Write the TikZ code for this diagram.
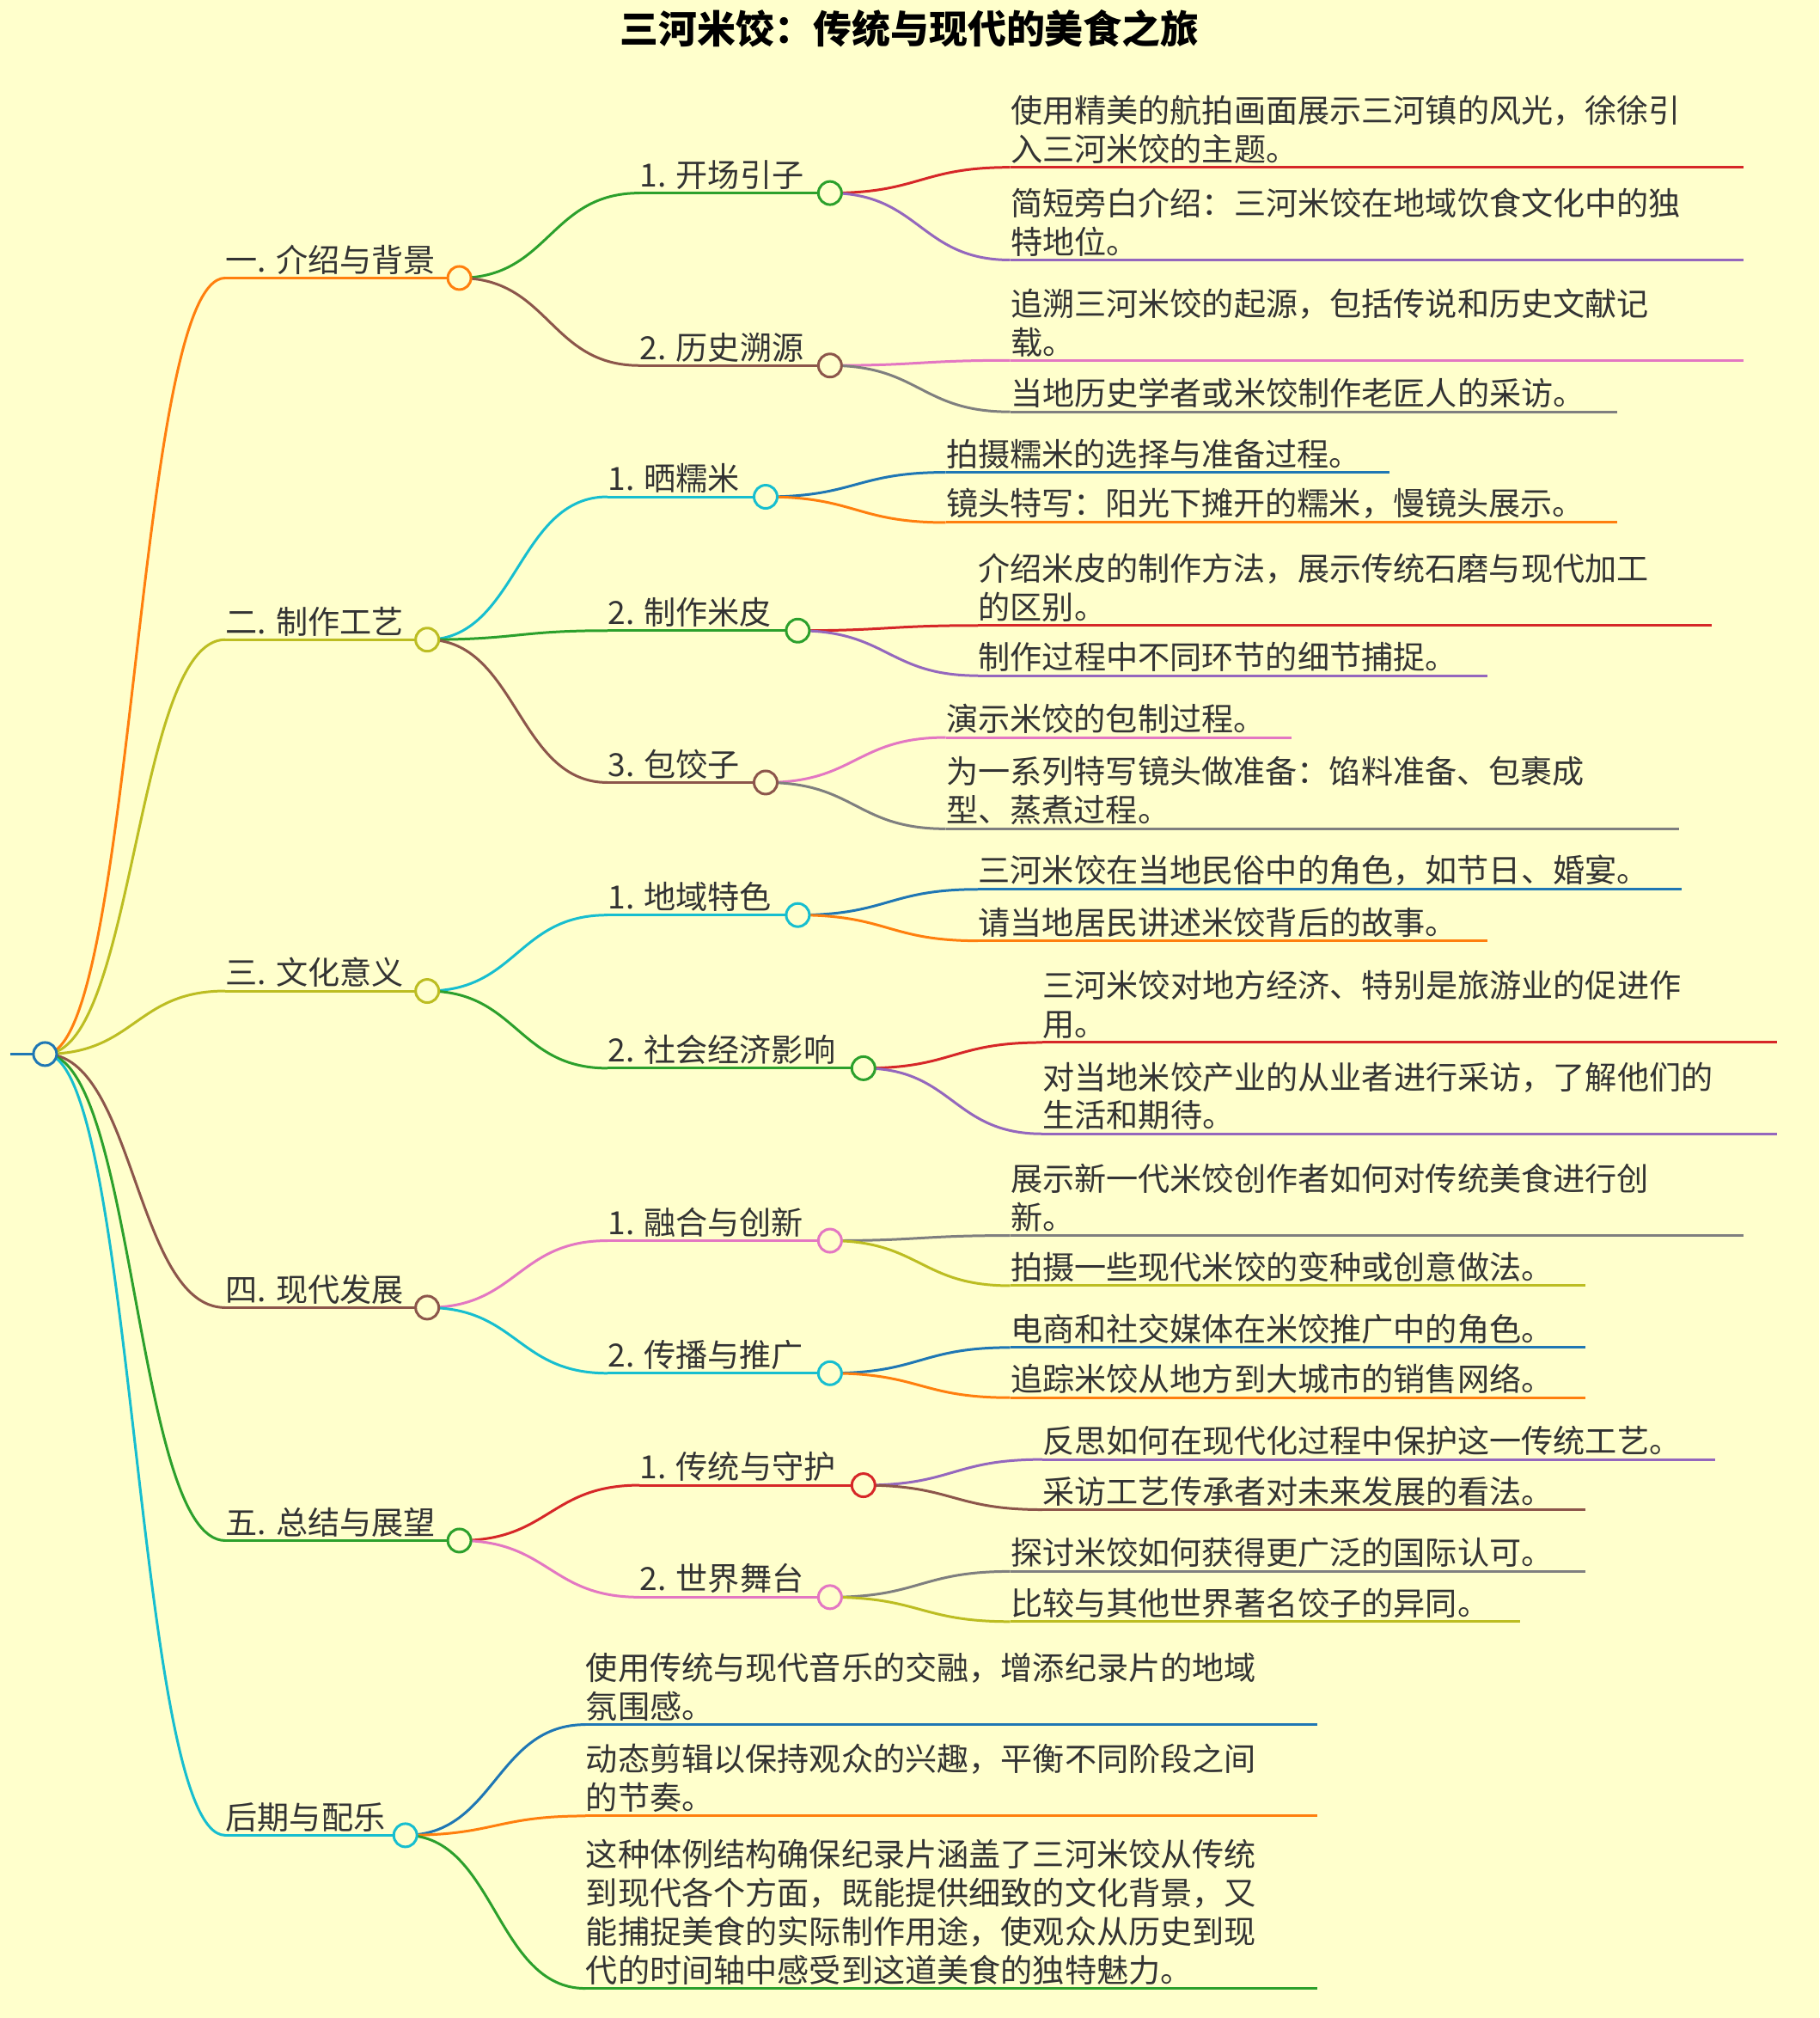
\documentclass[tikz,border=0pt]{standalone}
\usepackage{fontspec}
\setmainfont{Noto Sans CJK SC}
\definecolor{bg}{HTML}{FFFFCC}
\definecolor{cB}{HTML}{1F77B4}
\definecolor{cO}{HTML}{FF7F0E}
\definecolor{cG}{HTML}{2CA02C}
\definecolor{cR}{HTML}{D62728}
\definecolor{cP}{HTML}{9467BD}
\definecolor{cN}{HTML}{8C564B}
\definecolor{cK}{HTML}{E377C2}
\definecolor{cY}{HTML}{7F7F7F}
\definecolor{cL}{HTML}{BCBD22}
\definecolor{cC}{HTML}{17BECF}
\tikzset{
  ln/.style={line width=1pt},
  lt/.style={font=\fontsize{12.4}{15}\selectfont, text=black!80, align=left, inner xsep=0pt, inner ysep=1.2pt, anchor=south west},
  circ/.style={circle, line width=1pt, fill=bg, minimum size=9pt, inner sep=0pt}
}
\newcommand\mmconn[3]{\draw[ln,#1] (#2) .. controls +(70,0) and +(-70,0) .. (#3);}
% color, parent, name, x1, x2, y, text
\newcommand\mmleaf[7]{\coordinate (#3) at (#4,#6);\mmconn{#1}{#2}{#3}\draw[ln,#1] (#3) -- (#5,#6);\node[lt] (#3t) at (#3) {#7};}
% color, parent, name, x1, xc, y, text
\newcommand\mmmid[7]{\coordinate (#3) at (#4,#6);\coordinate (#3c) at (#5,#6);\mmconn{#1}{#2}{#3}\draw[ln,#1] (#3) -- (#3c);\node[lt] (#3t) at (#3) {#7};}
\newcommand\mmdot[2]{\node[circ,draw=#1] at (#2) {};}
\begin{document}
\begin{tikzpicture}[x=0.5pt,y=-0.5pt]
\fill[bg] (0,0) rectangle (1414,1568);
\useasboundingbox (0,0) rectangle (1414,1568);
\node[font=\fontsize{15}{18}\selectfont\bfseries, text=black] (title) at (707,22) {三河米饺：传统与现代的美食之旅};
\coordinate (root) at (35,819);
\coordinate (rs) at (8,819);
\draw[ln,cB] (rs) -- (root);
% 1
\mmmid{cO}{root}{a}{175}{357}{216}{一. 介绍与背景}
\mmmid{cG}{ac}{a1}{497}{645}{150}{1. 开场引子}
\mmleaf{cR}{a1c}{a11}{785}{1355}{130}{使用精美的航拍画面展示三河镇的风光，徐徐引\\入三河米饺的主题。}
\mmleaf{cP}{a1c}{a12}{785}{1355}{202}{简短旁白介绍：三河米饺在地域饮食文化中的独\\特地位。}
\mmmid{cN}{ac}{a2}{497}{645}{284}{2. 历史溯源}
\mmleaf{cK}{a2c}{a21}{785}{1355}{280}{追溯三河米饺的起源，包括传说和历史文献记\\载。}
\mmleaf{cY}{a2c}{a22}{785}{1257}{320}{当地历史学者或米饺制作老匠人的采访。}
% 2
\mmmid{cL}{root}{b}{175}{332}{497}{二. 制作工艺}
\mmmid{cC}{bc}{b1}{472}{595}{386}{1. 晒糯米}
\mmleaf{cB}{b1c}{b11}{735}{1080}{367}{拍摄糯米的选择与准备过程。}
\mmleaf{cO}{b1c}{b12}{735}{1257}{406}{镜头特写：阳光下摊开的糯米，慢镜头展示。}
\mmmid{cG}{bc}{b2}{472}{620}{490}{2. 制作米皮}
\mmleaf{cR}{b2c}{b21}{760}{1330}{486}{介绍米皮的制作方法，展示传统石磨与现代加工\\的区别。}
\mmleaf{cP}{b2c}{b22}{760}{1156}{525}{制作过程中不同环节的细节捕捉。}
\mmmid{cN}{bc}{b3}{472}{595}{608}{3. 包饺子}
\mmleaf{cK}{b3c}{b31}{735}{1004}{573}{演示米饺的包制过程。}
\mmleaf{cY}{b3c}{b32}{735}{1305}{644}{为一系列特写镜头做准备：馅料准备、包裹成\\型、蒸煮过程。}
% 3
\mmmid{cL}{root}{c}{175}{332}{770}{三. 文化意义}
\mmmid{cC}{cc}{c1}{472}{620}{711}{1. 地域特色}
\mmleaf{cB}{c1c}{c11}{760}{1307}{691}{三河米饺在当地民俗中的角色，如节日、婚宴。}
\mmleaf{cO}{c1c}{c12}{760}{1156}{731}{请当地居民讲述米饺背后的故事。}
\mmmid{cG}{cc}{c2}{472}{671}{830}{2. 社会经济影响}
\mmleaf{cR}{c2c}{c21}{810}{1381}{810}{三河米饺对地方经济、特别是旅游业的促进作\\用。}
\mmleaf{cP}{c2c}{c22}{810}{1381}{881}{对当地米饺产业的从业者进行采访，了解他们的\\生活和期待。}
% 4
\mmmid{cN}{root}{d}{175}{332}{1016}{四. 现代发展}
\mmmid{cK}{dc}{d1}{472}{645}{964}{1. 融合与创新}
\mmleaf{cY}{d1c}{d11}{785}{1355}{960}{展示新一代米饺创作者如何对传统美食进行创\\新。}
\mmleaf{cL}{d1c}{d12}{785}{1232}{999}{拍摄一些现代米饺的变种或创意做法。}
\mmmid{cC}{dc}{d2}{472}{645}{1067}{2. 传播与推广}
\mmleaf{cB}{d2c}{d21}{785}{1232}{1047}{电商和社交媒体在米饺推广中的角色。}
\mmleaf{cO}{d2c}{d22}{785}{1232}{1086}{追踪米饺从地方到大城市的销售网络。}
% 5
\mmmid{cG}{root}{e}{175}{357}{1197}{五. 总结与展望}
\mmmid{cR}{ec}{e1}{497}{671}{1154}{1. 传统与守护}
\mmleaf{cP}{e1c}{e11}{810}{1333}{1134}{反思如何在现代化过程中保护这一传统工艺。}
\mmleaf{cN}{e1c}{e12}{810}{1232}{1173}{采访工艺传承者对未来发展的看法。}
\mmmid{cK}{ec}{e2}{497}{645}{1241}{2. 世界舞台}
\mmleaf{cY}{e2c}{e21}{785}{1232}{1221}{探讨米饺如何获得更广泛的国际认可。}
\mmleaf{cL}{e2c}{e22}{785}{1181}{1260}{比较与其他世界著名饺子的异同。}
% 6
\mmmid{cC}{root}{f}{175}{315}{1426}{后期与配乐}
\mmleaf{cB}{fc}{f1}{455}{1024}{1340}{使用传统与现代音乐的交融，增添纪录片的地域\\氛围感。}
\mmleaf{cO}{fc}{f2}{455}{1024}{1411}{动态剪辑以保持观众的兴趣，平衡不同阶段之间\\的节奏。}
\mmleaf{cG}{fc}{f3}{455}{1024}{1545}{这种体例结构确保纪录片涵盖了三河米饺从传统\\到现代各个方面，既能提供细致的文化背景，又\\能捕捉美食的实际制作用途，使观众从历史到现\\代的时间轴中感受到这道美食的独特魅力。}
% circles
\mmdot{cO}{ac}\mmdot{cG}{a1c}\mmdot{cN}{a2c}
\mmdot{cL}{bc}\mmdot{cC}{b1c}\mmdot{cG}{b2c}\mmdot{cN}{b3c}
\mmdot{cL}{cc}\mmdot{cC}{c1c}\mmdot{cG}{c2c}
\mmdot{cN}{dc}\mmdot{cK}{d1c}\mmdot{cC}{d2c}
\mmdot{cG}{ec}\mmdot{cR}{e1c}\mmdot{cK}{e2c}
\mmdot{cC}{fc}
\mmdot{cB}{root}
\end{tikzpicture}
\end{document}
